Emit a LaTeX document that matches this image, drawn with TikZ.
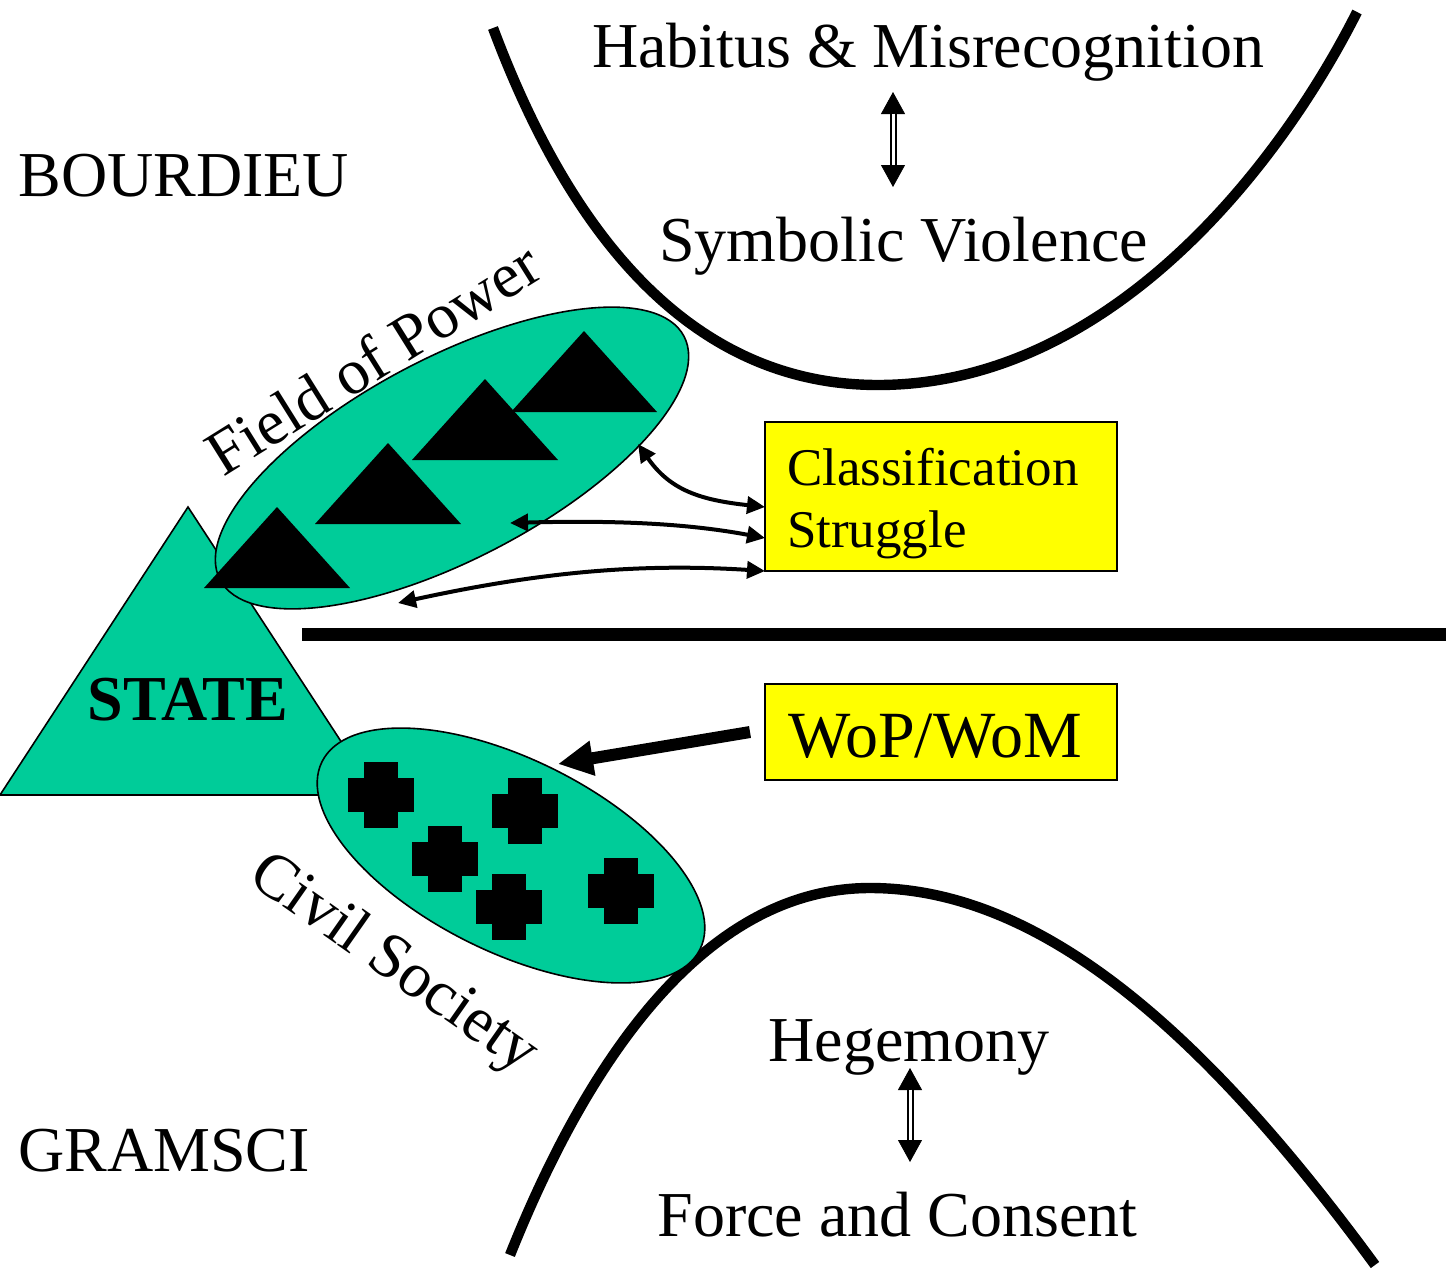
\documentclass[tikz,border=0pt]{standalone}
\usepackage{fontspec}
\setmainfont{Liberation Serif}
\usetikzlibrary{shapes.geometric,arrows.meta,calc}

\definecolor{fieldgreen}{RGB}{0,204,153}
\definecolor{boxyellow}{RGB}{255,255,0}

\begin{document}
\begin{tikzpicture}[x=0.5pt,y=-0.5pt,
  lbl/.style={inner sep=0pt, font=\fontsize{32}{38}\selectfont},
  bigcurve/.style={line width=5.2pt},
  zone/.style={ellipse, draw=black, line width=0.8pt, fill=fieldgreen, inner sep=0pt, outer sep=0pt},
  labelbox/.style={draw=black, line width=0.8pt, fill=boxyellow, outer sep=0pt},
  thinarrow/.style={line width=2pt, {Triangle[length=9pt,width=8.5pt]}-{Triangle[length=9pt,width=8.5pt]}},
  fatarrow/.style={line width=6pt, -{Triangle[length=17.5pt,width=16.5pt]}},
  dtip/.style={line width=0.4pt, {Triangle[length=11pt,width=12pt]}-{Triangle[length=11pt,width=12pt]}},
  dshaft/.style={draw=black, double=white, line width=1pt, double distance=1.5pt, shorten <=10.8pt, shorten >=10.8pt},
  peak/.pic={\fill[black] (0,0) -- (73,81) -- (-73,81) -- cycle;},
  plusmark/.pic={\fill[black] (-17,-33) rectangle (17,33); \fill[black] (-33,-17) rectangle (33,17);}
]
\useasboundingbox[fill=white] (0,0) rectangle (1446,1274);

% dividing curves and the central bar
\draw[bigcurve] (493,28) .. controls (550,180) and (660,385) .. (878,385)
                         .. controls (1110,385) and (1280,165) .. (1357,12);
\draw[bigcurve] (510,1255) .. controls (600,1030) and (720,888) .. (870,888)
                           .. controls (1045,888) and (1210,1040) .. (1375,1265);
\draw[line width=6.5pt] (302,634) -- (1446,634);

% the state
\filldraw[fill=fieldgreen, draw=black, line width=0.8pt] (188,507) -- (376,795) -- (0,795) -- cycle;
\node[lbl, font=\fontsize{32}{38}\selectfont\bfseries, anchor=base] (state) at (188,720) {STATE};

% civil society and the field of power
\node[zone, minimum width=211pt, minimum height=96.3pt, rotate=-26.4] (civ) at (511,855.5) {};
\node[zone, minimum width=262pt, minimum height=100.6pt, rotate=27.7] (fop) at (452,458) {};

\pic at (277,507) {peak};
\pic at (388,443) {peak};
\pic at (485,379) {peak};
\pic at (584,331) {peak};

\pic at (381,795) {plusmark};
\pic at (525,811) {plusmark};
\pic at (445,859) {plusmark};
\pic at (509,907) {plusmark};
\pic at (621,891) {plusmark};

\node[lbl, anchor=base west, rotate=32] (foplabel) at (223,478) {Field of Power};
\node[lbl, rotate=-35] (civlabel) at (393,965) {Civil Society};

% headings
\node[lbl, anchor=base west] (bourdieu) at (18,196) {BOURDIEU};
\node[lbl, anchor=base west] (gramsci) at (18,1171) {GRAMSCI};

\node[lbl, anchor=base] (habitus) at (928,68) {Habitus \& Misrecognition};
\node[lbl, anchor=base] (symv) at (903.5,261) {Symbolic Violence};
\node[lbl, anchor=base] (hegemony) at (909,1061) {Hegemony};
\node[lbl, anchor=base] (force) at (897.5,1236) {Force and Consent};

% boxes
\node[labelbox, minimum width=176pt, minimum height=74.5pt, inner xsep=11pt,
      text width=154pt, align=left, text height=20pt, text depth=31.5pt,
      font=\fontsize{26.5}{31}\selectfont] (cls) at (941,496.5)
      {Classification\\Struggle};
\node[labelbox, minimum width=176pt, minimum height=48pt, text height=25pt, text depth=0pt,
      font=\fontsize{33}{38}\selectfont] (wop) at (941,732) {WoP/WoM\kern6pt};

% double arrows
\coordinate (habA) at (893,92);
\coordinate (habB) at (893,187);
\coordinate (hegA) at (910,1068);
\coordinate (hegB) at (910,1162);
\draw[dtip] (habA) -- (habB);
\draw[dshaft] (habA) -- (habB);
\draw[dtip] (hegA) -- (hegB);
\draw[dshaft] (hegA) -- (hegB);

% classification struggle arrows
\coordinate (fopA) at (638,444);
\coordinate (fopB) at (510,523);
\coordinate (fopC) at (398,603);
\draw[thinarrow] (fopA) .. controls (670,490) and (700,500) .. ([yshift=-5.25pt]cls.west);
\draw[thinarrow] (fopB) .. controls (620,520) and (690,524) .. ([yshift=-20.75pt]cls.west);
\draw[thinarrow] (fopC) .. controls (540,572) and (640,563) .. (cls.south west);

% war of position / manoeuvre arrow
\coordinate (civA) at (558,764);
\draw[fatarrow] ([xshift=-7.5pt]wop.west) -- (civA);
\end{tikzpicture}
\end{document}
